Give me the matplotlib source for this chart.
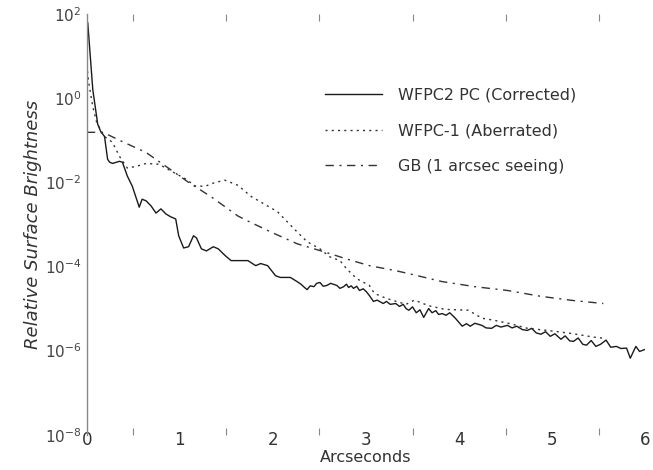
import matplotlib
matplotlib.use('Agg')
import matplotlib.pyplot as plt
import numpy as np

# WFPC2 PC (Corrected), log10 of brightness
wfpc2_x = [0.01, 0.064, 0.117, 0.149, 0.19, 0.223, 0.244, 0.276, 0.35, 0.382,
           0.435, 0.488, 0.563, 0.594, 0.637, 0.69, 0.743, 0.796, 0.849, 0.902,
           0.955, 0.987, 1.04, 1.093, 1.146, 1.178, 1.231, 1.285, 1.359, 1.412,
           1.486, 1.55, 1.73, 1.815, 1.868, 1.943, 2.028, 2.08, 2.187, 2.26,
           2.30, 2.34, 2.367, 2.40, 2.44, 2.47, 2.505, 2.54, 2.58, 2.62, 2.686,
           2.72, 2.76, 2.79, 2.813, 2.84, 2.866, 2.90, 2.93, 2.97, 3.004, 3.036,
           3.08, 3.12, 3.185, 3.22, 3.26, 3.32, 3.36, 3.40, 3.43, 3.46, 3.50,
           3.54, 3.58, 3.62, 3.673, 3.71, 3.75, 3.78, 3.82, 3.86, 3.90, 3.96,
           4.034, 4.08, 4.12, 4.17, 4.246, 4.29, 4.35, 4.40, 4.45, 4.52, 4.57,
           4.62, 4.68, 4.735, 4.78, 4.83, 4.88, 4.93, 4.98, 5.03, 5.095, 5.14,
           5.19, 5.23, 5.28, 5.33, 5.37, 5.42, 5.47, 5.52, 5.58, 5.63, 5.69,
           5.74, 5.80, 5.84, 5.90, 5.94, 6.0]
wfpc2_log = [1.79, 0.20, -0.62, -0.79, -0.91, -1.45, -1.52, -1.55, -1.50, -1.52,
             -1.85, -2.09, -2.59, -2.40, -2.44, -2.56, -2.73, -2.63, -2.75, -2.82,
             -2.87, -3.27, -3.56, -3.53, -3.27, -3.32, -3.58, -3.63, -3.53, -3.58,
             -3.74, -3.86, -3.86, -3.98, -3.93, -3.98, -4.22, -4.26, -4.26, -4.36,
             -4.42, -4.50, -4.55, -4.46, -4.48, -4.40, -4.38, -4.47, -4.45, -4.40,
             -4.45, -4.52, -4.48, -4.42, -4.50, -4.46, -4.52, -4.47, -4.57, -4.53,
             -4.60, -4.69, -4.83, -4.80, -4.88, -4.83, -4.90, -4.88, -4.95, -4.90,
             -5.00, -5.04, -4.96, -5.10, -5.03, -5.21, -5.00, -5.10, -5.05, -5.14,
             -5.12, -5.16, -5.10, -5.23, -5.42, -5.36, -5.42, -5.35, -5.40, -5.46,
             -5.47, -5.40, -5.44, -5.40, -5.46, -5.42, -5.50, -5.52, -5.47, -5.58,
             -5.61, -5.55, -5.66, -5.60, -5.73, -5.65, -5.77, -5.78, -5.70, -5.85,
             -5.87, -5.76, -5.90, -5.85, -5.75, -5.92, -5.90, -5.95, -5.94, -6.18,
             -5.90, -6.02, -5.97]

# WFPC-1 (Aberrated)
wfpc1_x = [0.0, 0.02, 0.064, 0.106, 0.19, 0.276, 0.35, 0.435, 0.53, 0.637,
           0.775, 0.913, 1.062, 1.168, 1.274, 1.38, 1.486, 1.624, 1.762, 1.91,
           2.05, 2.155, 2.26, 2.367, 2.505, 2.61, 2.72, 2.79, 2.90, 3.036,
           3.09, 3.22, 3.43, 3.52, 3.67, 3.85, 4.10, 4.246, 4.38, 4.55, 4.735,
           4.95, 5.20, 5.45, 5.57]
wfpc1_log = [0.79, 0.37, -0.20, -0.58, -0.91, -1.05, -1.38, -1.66, -1.62, -1.55,
             -1.57, -1.74, -1.92, -2.09, -2.09, -2.00, -1.95, -2.07, -2.33, -2.52,
             -2.70, -2.94, -3.18, -3.41, -3.58, -3.77, -3.86, -4.05, -4.29, -4.45,
             -4.64, -4.76, -4.90, -4.80, -4.93, -5.02, -5.04, -5.23, -5.28, -5.36,
             -5.47, -5.52, -5.59, -5.68, -5.71]

# GB (1 arcsec seeing)
gb_x = [0.0, 0.14, 0.22, 0.38, 0.637, 0.85, 1.093, 1.34, 1.624, 1.73,
        2.017, 2.26, 2.548, 2.79, 3.036, 3.32, 3.46, 3.82, 4.17, 4.52,
        4.88, 5.23, 5.55]
gb_log = [-0.81, -0.81, -0.86, -1.03, -1.29, -1.62, -2.00, -2.35, -2.80, -2.92,
          -3.22, -3.46, -3.65, -3.82, -3.98, -4.10, -4.17, -4.36, -4.48, -4.57,
          -4.71, -4.81, -4.88]

series_labels = ['WFPC2 PC (Corrected)', 'WFPC-1 (Aberrated)', 'GB (1 arcsec seeing)']
x_ticks = [0, 1, 2, 3, 4, 5, 6]
y_ticks = [1e2, 1e0, 1e-2, 1e-4, 1e-6, 1e-8]
y_tick_labels = ['$10^{2}$', '$10^{0}$', '$10^{-2}$', '$10^{-4}$', '$10^{-6}$', '$10^{-8}$']

plt.rcParams['font.family'] = ['DejaVu Sans']
plt.rcParams['mathtext.fontset'] = 'dejavusans'

fig = plt.figure(figsize=(6.53, 4.70), dpi=100)
ax = fig.add_axes([0.133, 0.075, 0.855, 0.895])

ink = '#1a1a1a'
ax.plot(wfpc2_x, 10 ** np.array(wfpc2_log), color=ink, lw=1.0,
        label=series_labels[0])
ax.plot(wfpc1_x, 10 ** np.array(wfpc1_log), color='#333333', lw=1.0,
        linestyle=(0, (1.5, 3)), label=series_labels[1])
ax.plot(gb_x, 10 ** np.array(gb_log), color='#333333', lw=1.0,
        linestyle=(0, (6, 4, 1.5, 4)), label=series_labels[2])

ax.set_yscale('log')
ax.set_xlim(0, 6)
ax.set_ylim(1e-8, 1e2)

for side in ['top', 'right', 'bottom']:
    ax.spines[side].set_visible(False)
ax.spines['left'].set_color('#888888')
ax.spines['left'].set_linewidth(1.0)

ax.set_xticks(x_ticks)
ax.set_xticks(np.arange(0.5, 6, 0.5), minor=True)
ax.set_yticks(y_ticks)
ax.set_yticklabels(y_tick_labels)
ax.yaxis.set_minor_locator(matplotlib.ticker.NullLocator())
ax.tick_params(axis='y', length=0, labelsize=11, labelcolor='#444444', pad=4)
ax.tick_params(axis='x', which='major', length=0, labelsize=12,
               labelcolor='#333333', pad=-3)
ax.tick_params(axis='x', which='minor', direction='in', length=5, width=0.8,
               color='#888888', top=True, bottom=True)

ax.set_xlabel('Arcseconds', fontsize=11.5, color='#333333', labelpad=1)
ax.set_ylabel('Relative Surface Brightness', fontsize=13, color='#333333',
              style='italic', labelpad=2)

ax.legend(loc='upper left', bbox_to_anchor=(0.40, 0.86), frameon=False,
          fontsize=11.5, handlelength=3.6, handletextpad=1.0,
          labelspacing=1.3, labelcolor='#333333')

fig.savefig('out.png', dpi=100)
plt.close(fig)
